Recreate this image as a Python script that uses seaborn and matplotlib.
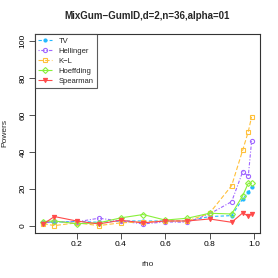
import matplotlib
matplotlib.use("Agg")
import matplotlib.pyplot as plt
import seaborn as sns
import pandas as pd

rho = [0.05, 0.1, 0.2, 0.3, 0.4, 0.5, 0.6, 0.7, 0.8, 0.9, 0.95, 0.975, 0.99]
tv = [2, 1.8, 2.3, 1.8, 2.5, 2.5, 2.5, 2.5, 4.9, 5.4, 14.5, 18, 21]
hellinger = [1.5, 2, 2, 4, 2.5, 0.9, 2, 1.8, 6.3, 13, 29.3, 26.8, 45.8]
kl = [1, 0, 1.5, 0, 1.5, 2, 2.5, 2.5, 6.7, 21.7, 41, 51, 59]
hoeffding = [2.2, 2.5, 1, 1.5, 4.2, 6, 3, 4, 6.7, 6.3, 16.3, 23, 23]
spearman = [0.9, 4.9, 2.5, 0.9, 2.9, 1.5, 2.5, 2.5, 3.6, 1.8, 6.9, 5.1, 6.3]
names = ["TV", "Hellinger", "K\u2212L", "Hoeffding", "Spearman"]
series = [tv, hellinger, kl, hoeffding, spearman]

sns.set_style("white")
plt.rcParams['font.family'] = ['Liberation Sans', 'DejaVu Sans']

colors = ["#22B8FF", "#A066FF", "#FFC03A", "#88F03A", "#FF4A4A"]
markers = ["o", "o", "s", "D", "v"]
fills = [True, False, False, False, True]
msizes = [2.2, 3, 3, 3, 3]
styles = [(0, (3, 2)), (0, (1, 1.5, 3, 1.5)), (0, (4, 2)), (0, (1, 0)), (0, (1, 0))]

fig = plt.figure(figsize=(2.78, 2.78), dpi=100)
ax = fig.add_axes([0.126, 0.162, 0.809, 0.716])

for name, vals, c, m, f, ms, ls in zip(names, series, colors, markers, fills, msizes, styles):
    df = pd.DataFrame({"rho": rho, "power": vals})
    sns.lineplot(data=df, x="rho", y="power", ax=ax, color=c, linestyle=ls,
                 linewidth=0.8, marker=m, markersize=ms,
                 markerfacecolor=c if f else "none", markeredgecolor=c,
                 markeredgewidth=0.8, label=name)

ax.set_xlim(0.0124, 1.0276)
ax.set_ylim(-4, 104)
ax.set_xticks([0.2, 0.4, 0.6, 0.8, 1.0])
ax.set_xticklabels(["0.2", "0.4", "0.6", "0.8", "1.0"])
ax.set_yticks([0, 20, 40, 60, 80, 100])
ax.set_yticklabels(["0", "20", "40", "60", "80", "100"], rotation=90, va="center")
ax.tick_params(axis="both", labelsize=6, length=4, width=0.6, direction="out",
               bottom=True, left=True, pad=2, colors="#333333", labelcolor="black")
for s in ax.spines.values():
    s.set_color("#333333")
    s.set_linewidth(0.8)

ax.set_xlabel("rho", fontsize=6, labelpad=9)
ax.set_ylabel("Powers", fontsize=6, labelpad=8)
ax.set_title("MixGum\u2212GumID,d=2,n=36,alpha=01", fontsize=7, fontweight="bold", pad=11)

leg = ax.legend(loc="upper left", fontsize=5.5, frameon=True, fancybox=False,
                borderaxespad=0, handlelength=1.8, labelspacing=0.35,
                borderpad=0.45, handletextpad=0.8)
leg.get_frame().set_edgecolor("#333333")
leg.get_frame().set_linewidth(0.8)

fig.savefig("out.png", dpi=100)
